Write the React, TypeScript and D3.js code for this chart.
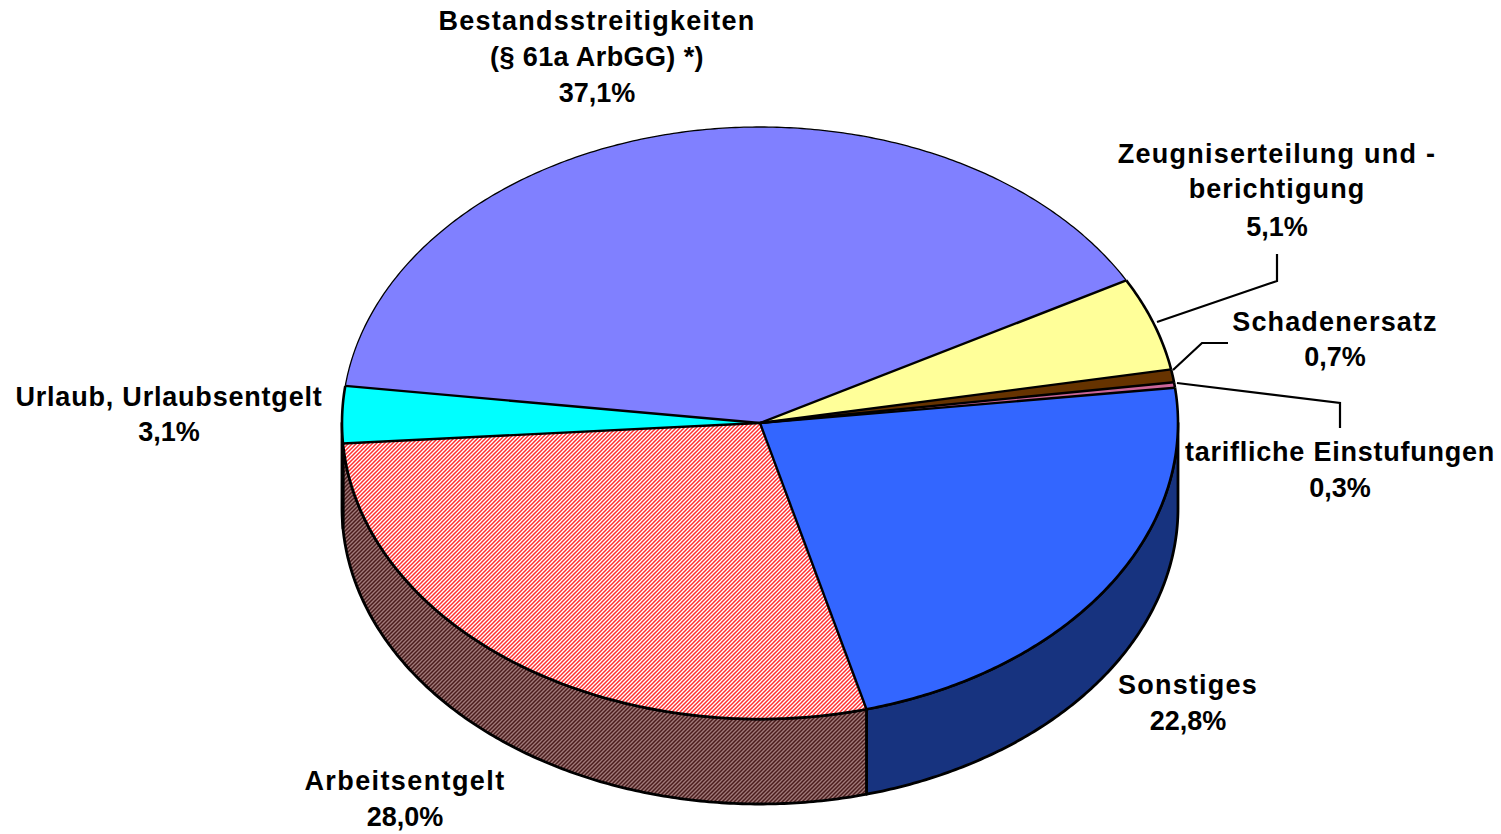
import React from "react";
import * as d3 from "d3";

// Data
const categories = [
  "Bestandsstreitigkeiten",
  "Zeugniserteilung",
  "Schadenersatz",
  "tarifliche Einstufungen",
  "Sonstiges",
  "Arbeitsentgelt",
  "Urlaub",
];
// Angular share of each drawn slice. The first slice is drawn with 40,0 although its label says 37,1%.
const sliceShares = [40.0, 5.1, 0.7, 0.3, 22.8, 28.0, 3.1];
const percentLabels = ["37,1%", "5,1%", "0,7%", "0,3%", "22,8%", "28,0%", "3,1%"];
const labelLines = [
  ["Bestandsstreitigkeiten", "(§ 61a ArbGG) *)"],
  ["Zeugniserteilung und -", "berichtigung"],
  ["Schadenersatz"],
  ["tarifliche Einstufungen"],
  ["Sonstiges"],
  ["Arbeitsentgelt"],
  ["Urlaub, Urlaubsentgelt"],
];

// Styles and layout
const topFills = ["#8080ff", "#ffff99", "#663300", "#cc6699", "#3366ff", "url(#hatchTop)", "#00ffff"];
const wallFills = ["#404080", "#808050", "#331a00", "#663350", "#17337f", "url(#hatchWall)", "#008080"];
const rimWidths = [1.3, 2.6, 2.6, 2.6, 2.6, 2.6, 2.6];
const labelLayout = [
  { x: 597, ys: [30, 66, 102], ls: [1.25, 0.4] },
  { x: 1277, ys: [163, 198, 236], ls: [1.25, 1.1] },
  { x: 1335, ys: [331, 366], ls: [1.15] },
  { x: 1340, ys: [461, 497], ls: [0.77] },
  { x: 1188, ys: [694, 730], ls: [1.2] },
  { x: 405, ys: [790, 826], ls: [1.4] },
  { x: 169, ys: [406, 441], ls: [0.8] },
];
const leaders: [number, number][][] = [
  [[1157, 322], [1277, 281], [1277, 254]],
  [[1173, 370], [1202, 343], [1228, 343]],
  [[1177, 383], [1340, 403], [1340, 428]],
];

const cx = 760, cy = 423, rx = 418, ry = 296, depth = 85;
const start = (-82.8 * Math.PI) / 180;

const pts = (a0: number, a1: number, dy = 0): [number, number][] => {
  const n = Math.max(2, Math.ceil(Math.abs(a1 - a0) / 0.01));
  return d3.range(n + 1).map((i) => {
    const a = a0 + ((a1 - a0) * i) / n;
    return [cx + rx * Math.sin(a), cy - ry * Math.cos(a) + dy] as [number, number];
  });
};

export default function App() {
  const arcs = d3
    .pie<number>()
    .sort(null)
    .startAngle(start)
    .endAngle(start + 2 * Math.PI)(sliceShares);
  const line = d3.line();

  const walls = arcs.map((s, i) => {
    // only the front half of the rim is visible: angles from 90° to 270°
    const a0 = Math.max(s.startAngle, Math.PI / 2);
    const a1 = Math.min(s.endAngle, (3 * Math.PI) / 2);
    if (a1 <= a0) return null;
    const p = [...pts(a0, a1), ...pts(a1, a0, depth)];
    return <path key={categories[i]} d={line(p) + "Z"} fill={wallFills[i]} stroke="#000" strokeWidth={2.8} strokeLinejoin="round" />;
  });

  const tops = arcs.map((s, i) => {
    const rim = pts(s.startAngle, s.endAngle);
    const p: [number, number][] = [[cx, cy], ...rim];
    return <path key={categories[i]} d={line(p) + "Z"} fill={topFills[i]} stroke="none" />;
  });
  const rims = arcs.map((s, i) => (
    <path key={categories[i]} d={line(pts(s.startAngle, s.endAngle)) ?? ""} fill="none" stroke="#000" strokeWidth={rimWidths[i]} />
  ));
  const spokes = arcs.map((s, i) => {
    const [p] = pts(s.startAngle, s.startAngle);
    return <path key={categories[i]} d={line([[cx, cy], p]) ?? ""} fill="none" stroke="#000" strokeWidth={2.4} />;
  });

  return (
    <svg width={1501} height={834} style={{ position: "absolute", left: 0, top: 0, background: "#fff" }}>
      <defs>
        <pattern id="hatchTop" width={4} height={4} patternUnits="userSpaceOnUse">
          <rect width={4} height={4} fill="#fff" />
          <path d="M0 4L4 0M-1 1L1 -1M3 5L5 3" stroke="#ff3030" strokeWidth={1.5} />
        </pattern>
        <pattern id="hatchWall" width={4} height={4} patternUnits="userSpaceOnUse">
          <rect width={4} height={4} fill="#a07a7a" />
          <path d="M0 4L4 0M-1 1L1 -1M3 5L5 3" stroke="#4a1c1c" strokeWidth={1.5} />
        </pattern>
      </defs>
      {walls}
      {tops}
      {rims}
      {spokes}
      {leaders.map((l, i) => (
        <path key={i} d={line(l) ?? ""} fill="none" stroke="#000" strokeWidth={2.2} />
      ))}
      <g fontFamily="Liberation Sans, Arial, sans-serif" fontWeight="bold" fontSize={27} textAnchor="middle" fill="#000">
        {categories.map((c, i) => {
          const lay = labelLayout[i];
          const lines = [...labelLines[i], percentLabels[i]];
          return lines.map((t, j) => (
            <text key={c + j} x={lay.x} y={lay.ys[j]} letterSpacing={j < lines.length - 1 ? lay.ls[j] : 0}>
              {t}
            </text>
          ));
        })}
      </g>
    </svg>
  );
}
